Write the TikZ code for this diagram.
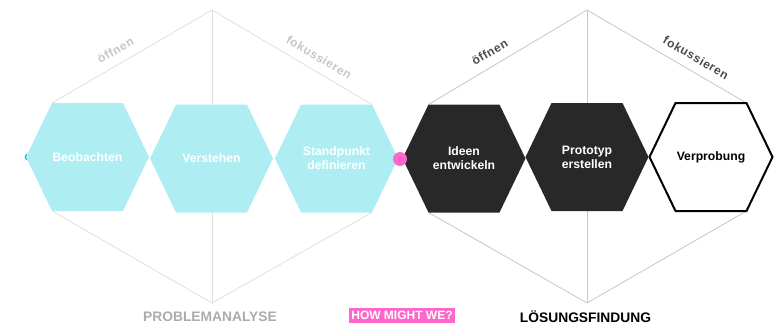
\documentclass[tikz,border=0pt]{standalone}
\usepackage{fontspec}
\setmainfont{Liberation Sans}
\usetikzlibrary{backgrounds}

\definecolor{softcyan}{RGB}{174,238,243}
\definecolor{deepcyan}{RGB}{30,200,212}
\definecolor{nearblack}{RGB}{40,40,40}
\definecolor{hotpink}{RGB}{255,102,204}

% six-cornered outline around a phase node
\newcommand{\hexof}[1]{(#1.west) -- ([xshift=26pt]#1.north west) -- ([xshift=-26pt]#1.north east)
  -- (#1.east) -- ([xshift=-26pt]#1.south east) -- ([xshift=26pt]#1.south west) -- cycle}

\begin{document}
\begin{tikzpicture}[x=1pt,y=-1pt,
    phase/.style ={minimum width=123pt, minimum height=108pt, inner sep=0pt, outer sep=0pt,
                   align=center, font=\bfseries\fontsize{12.2}{14}\selectfont},
    hint/.style ={font=\bfseries\fontsize{12}{14}\selectfont\addfontfeatures{LetterSpace=5},
                  sloped, above=9pt, inner sep=0pt},
    stage/.style ={font=\bfseries\fontsize{13.8}{15}\selectfont, inner sep=0pt},
    frame/.style ={line width=0.8pt}]
   \useasboundingbox (0,0) rectangle (782,324);

   \node[phase, text=white] (beob)  at (87.5,157)  {Beobachten};
   \node[phase, text=white] (verst) at (211.5,158.5) {Verstehen};
   \node[phase, text=white] (stand) at (336.5,158.5) {Standpunkt\\definieren};
   \node[phase, text=white] (idee)  at (464,158.5) {Ideen\\entwickeln};
   \node[phase, text=white] (proto) at (587,157)  {Prototyp\\erstellen};
   \node[phase, text=black] (probe) at (711,157)  {Verprobung};

   \coordinate (ptop) at (212,10);
   \coordinate (pbot) at (212,303);
   \coordinate (ltop) at (587,10);
   \coordinate (lbot) at (587,303);

   \begin{scope}[on background layer]
     \draw[frame, gray!25] (ptop) -- (pbot);
     \draw[frame, gray!25] ([xshift=26pt]beob.north west) -- node[hint, pos=0.44, text=gray!45] {öffnen} (ptop)
                           -- node[hint, pos=0.625, text=gray!45] {fokussieren} ([xshift=-26pt]stand.north east);
     \draw[frame, gray!25] ([xshift=26pt]beob.south west) -- (pbot) -- ([xshift=-26pt]stand.south east);
     \draw[frame, gray!45] (ltop) -- (lbot);
     \draw[frame, gray!45] ([xshift=26pt]idee.north west) -- node[hint, pos=0.43, text=black!70] {öffnen} (ltop)
                           -- node[hint, pos=0.64, text=black!70] {fokussieren} ([xshift=-26pt]probe.north east);
     \draw[frame, gray!45] ([xshift=26pt]idee.south west) -- (lbot) -- ([xshift=-26pt]probe.south east);
     \fill[deepcyan] ([xshift=2pt]beob.west) circle (3.5pt);
     \fill[softcyan] \hexof{beob};
     \fill[softcyan] \hexof{verst};
     \fill[softcyan] \hexof{stand};
     \fill[nearblack] \hexof{idee};
     \fill[nearblack] \hexof{proto};
     \draw[line width=2pt, black, fill=white] \hexof{probe};
   \end{scope}

   \node[circle, fill=hotpink, inner sep=0pt, minimum size=14pt] (hmw) at (400,159) {};

   \node[stage, text=gray!65] (prob) at (210,316.5) {PROBLEMANALYSE};
   \node[stage, text=black] (loes) at (585.5,316.5) {LÖSUNGSFINDUNG};
   \node[fill=hotpink, text=white, font=\bfseries\fontsize{12}{14}\selectfont,
         inner xsep=2.5pt, inner ysep=0pt, minimum height=15pt] (how) at (402,315.5) {HOW MIGHT WE?};
 \end{tikzpicture}
\end{document}
